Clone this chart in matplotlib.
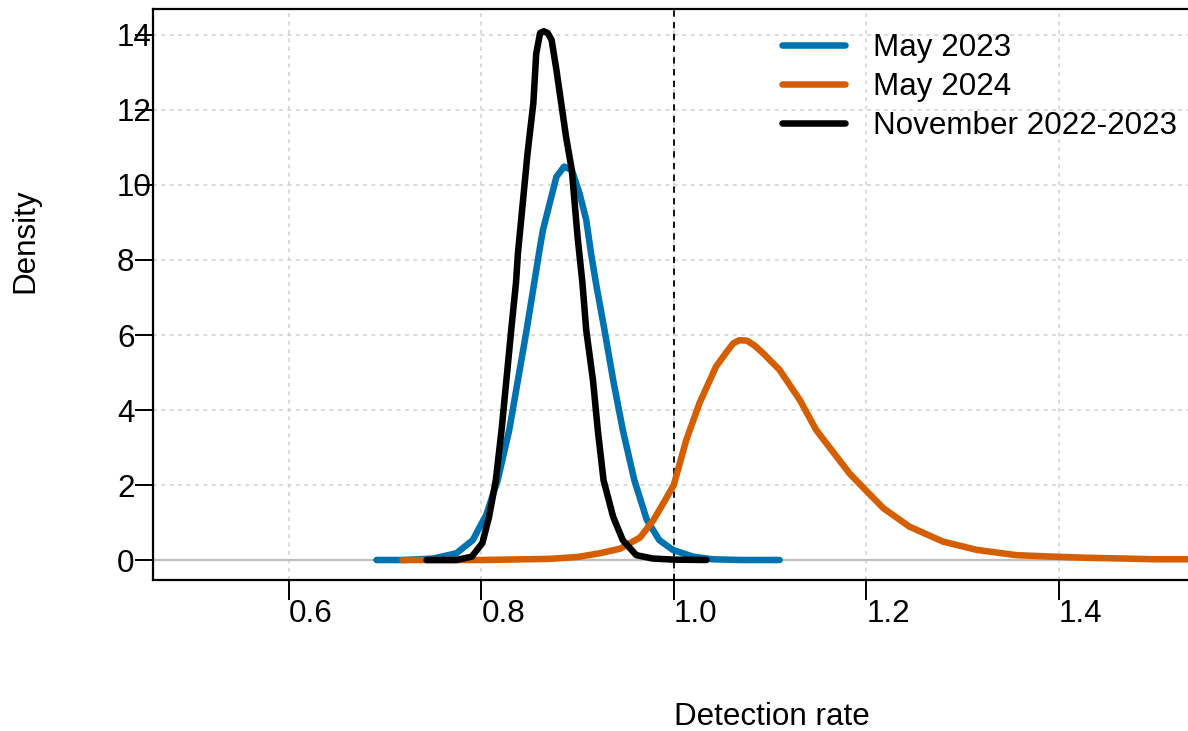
import matplotlib
matplotlib.use("Agg")
import matplotlib.pyplot as plt

plt.rcParams['font.family'] = ['Liberation Sans', 'DejaVu Sans']

# ---- data ----
nov_x = [0.743, 0.774, 0.790, 0.801, 0.808, 0.815, 0.821, 0.826, 0.831, 0.836, 0.838,
         0.843, 0.848, 0.854, 0.857, 0.861, 0.865, 0.869, 0.873, 0.878, 0.883, 0.888,
         0.894, 0.897, 0.900, 0.905, 0.909, 0.916, 0.921, 0.927, 0.937, 0.947, 0.961,
         0.978, 1.000, 1.034]
nov_d = [0.0, 0.0, 0.09, 0.45, 1.15, 2.13, 3.47, 4.8, 6.13, 7.4, 8.18,
         9.51, 10.85, 12.18, 13.5, 14.05, 14.1, 14.05, 13.87, 13.07, 12.18, 11.29,
         10.4, 9.51, 8.62, 7.4, 6.13, 4.8, 3.47, 2.13, 1.15, 0.53, 0.13,
         0.04, 0.01, 0.0]

may23_x = [0.691, 0.720, 0.750, 0.774, 0.791, 0.805, 0.817, 0.829, 0.838, 0.847, 0.855,
           0.860, 0.864, 0.871, 0.878, 0.886, 0.894, 0.902, 0.909, 0.914, 0.919, 0.928,
           0.937, 0.947, 0.959, 0.972, 0.985, 0.999, 1.020, 1.040, 1.070, 1.110]
may23_d = [0.0, 0.0, 0.04, 0.18, 0.53, 1.2, 2.13, 3.47, 4.8, 6.13, 7.4,
           8.2, 8.8, 9.51, 10.22, 10.49, 10.4, 9.78, 9.07, 8.18, 7.4, 6.13,
           4.8, 3.47, 2.13, 1.07, 0.53, 0.27, 0.09, 0.02, 0.0, 0.0]

may24_x = [0.718, 0.800, 0.870, 0.900, 0.923, 0.944, 0.965, 0.979, 0.990, 1.000, 1.013,
           1.027, 1.044, 1.055, 1.062, 1.068, 1.076, 1.084, 1.093, 1.110, 1.131, 1.148,
           1.165, 1.183, 1.200, 1.218, 1.245, 1.280, 1.315, 1.356, 1.394, 1.430, 1.467,
           1.500, 1.545]
may24_d = [0.0, 0.0, 0.03, 0.08, 0.18, 0.30, 0.60, 1.07, 1.55, 2.0, 3.2,
           4.2, 5.16, 5.55, 5.78, 5.86, 5.85, 5.72, 5.51, 5.07, 4.27, 3.47,
           2.9, 2.3, 1.85, 1.38, 0.89, 0.49, 0.27, 0.13, 0.09, 0.06, 0.04,
           0.02, 0.02]

series_labels = ["May 2023", "May 2024", "November 2022-2023"]
series_colors = ["#0072B2", "#D55E00", "#000000"]

x_ticks = [0.6, 0.8, 1.0, 1.2, 1.4]
x_ticklabels = ["0.6", "0.8", "1.0", "1.2", "1.4"]
y_ticks = [0, 2, 4, 6, 8, 10, 12, 14]
y_ticklabels = ["0", "2", "4", "6", "8", "10", "12", "14"]

FS = 22.6

fig = plt.figure(figsize=(11.88, 7.31), dpi=100)
W, H = 1188, 731
left, right, top, bottom = 153, 1195, 9, 580
ax = fig.add_axes([left / W, (H - bottom) / H, (right - left) / W, (bottom - top) / H])

ax.set_xlim(0.4586, 1.5419)
ax.set_ylim(-0.533, 14.693)

# grid
for xv in x_ticks:
    ax.axvline(xv, color="#CFCFCF", lw=1.1, linestyle=(0, (2.5, 3)), zorder=0)
for yv in y_ticks:
    ax.axhline(yv, color="#CFCFCF", lw=1.1, linestyle=(0, (2.5, 3)), zorder=0)

ax.axhline(0, color="#BEBEBE", lw=1.6, zorder=1)
ax.axvline(1.0, color="black", lw=1.3, linestyle=(0, (3.5, 3)), zorder=2)

ax.plot(may23_x, may23_d, color=series_colors[0], lw=4.7, label=series_labels[0],
        solid_capstyle="round", solid_joinstyle="round", zorder=3)
ax.plot(may24_x, may24_d, color=series_colors[1], lw=4.7, label=series_labels[1],
        solid_capstyle="round", solid_joinstyle="round", zorder=3)
ax.plot(nov_x, nov_d, color=series_colors[2], lw=4.7, label=series_labels[2],
        solid_capstyle="round", solid_joinstyle="round", zorder=4)

for s in ["left", "bottom", "top"]:
    ax.spines[s].set_linewidth(1.6)
ax.spines["right"].set_visible(False)

ax.set_xticks(x_ticks)
ax.set_xticklabels(x_ticklabels, fontsize=FS, ha="left")
ax.set_yticks(y_ticks)
ax.set_yticklabels(y_ticklabels, fontsize=FS, ha="left")
ax.tick_params(axis="x", direction="out", length=14.5, width=1.4, pad=-1)
ax.tick_params(axis="y", direction="out", length=13, width=1.4, pad=13)

fig.text(674 / W, (H - 717) / H, "Detection rate", fontsize=FS, ha="left", va="center")
fig.text(25 / W, (H - 293) / H, "Density", fontsize=FS, rotation=90, ha="center", va="bottom")

leg = ax.legend(loc="upper left", bbox_to_anchor=(782 / W, (H - 33) / H),
                bbox_transform=fig.transFigure, frameon=False, fontsize=FS,
                handlelength=2.0, handletextpad=0.9, labelspacing=0.28,
                borderpad=0, borderaxespad=0)
for line in leg.get_lines():
    line.set_linewidth(4.7)
    line.set_solid_capstyle("round")

fig.savefig("out.png", dpi=100)
